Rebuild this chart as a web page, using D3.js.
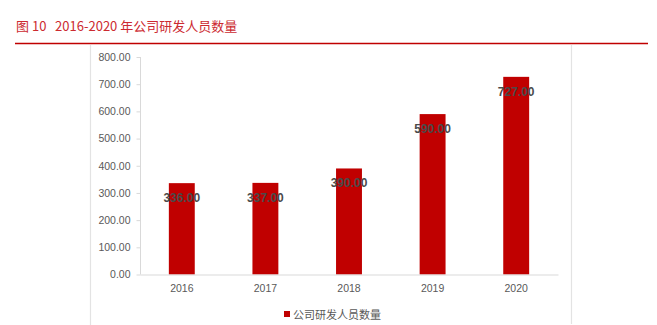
<!DOCTYPE html>
<html>
<head>
<meta charset="utf-8">
<script src="https://cdn.jsdelivr.net/npm/d3@7"></script>
<style>
  html, body { margin: 0; padding: 0; background: #fff; }
  svg { display: block; }
</style>
</head>
<body>
<svg id="chart" width="657" height="325"></svg>
<script>
const categories = ["2016", "2017", "2018", "2019", "2020"];
const values = [336, 337, 390, 590, 727];
const valueLabels = ["336.00", "337.00", "390.00", "590.00", "727.00"];
const yTicks = [0, 100, 200, 300, 400, 500, 600, 700, 800];
const seriesName = "公司研发人员数量";
const titleText = "图 10   2016-2020 年公司研发人员数量";

const svg = d3.select("#chart");
const red = "#c00000";
const textGray = "#595959";
const latin = "'Liberation Sans', Arial, sans-serif";
const cjk = "'Noto Sans CJK SC', sans-serif";

// Title
svg.append("text")
  .attr("x", 16).attr("y", 31)
  .attr("fill", "#cc2a30")
  .attr("font-family", cjk)
  .attr("font-size", 13)
  .attr("xml:space", "preserve")
  .style("white-space", "pre")
  .text(titleText);

// Red rule
svg.append("line")
  .attr("x1", 15).attr("x2", 648)
  .attr("y1", 43.5).attr("y2", 43.5)
  .attr("stroke", red).attr("stroke-width", 1.6);

// Frame borders
svg.append("line").attr("x1", 90.5).attr("x2", 90.5).attr("y1", 45).attr("y2", 325)
  .attr("stroke", "#e3e3e3").attr("stroke-width", 1.2);
svg.append("line").attr("x1", 571.5).attr("x2", 571.5).attr("y1", 45).attr("y2", 324)
  .attr("stroke", "#e3e3e3").attr("stroke-width", 1.2);

const x = d3.scaleBand().domain(categories).range([140, 558])
  .paddingInner(0.69).paddingOuter(0.345);
const y = d3.scaleLinear().domain([0, 800]).range([274.5, 57]);

// Y axis
const yAxis = svg.append("g").attr("transform", "translate(140.5,0)")
  .call(d3.axisLeft(y).tickValues(yTicks).tickFormat(d3.format(".2f")).tickSize(4).tickPadding(6));
yAxis.select(".domain").attr("stroke", "#d9d9d9").attr("d", `M0,${y(800)}V${y(0)}`);
yAxis.selectAll(".tick line").attr("stroke", "#d9d9d9").attr("x2", -4);
yAxis.selectAll(".tick text").attr("fill", textGray).attr("font-family", latin).attr("font-size", 10.5);

// Bars
svg.append("g").selectAll("rect").data(values).join("rect")
  .attr("x", (d, i) => x(categories[i]))
  .attr("width", x.bandwidth())
  .attr("y", d => y(d))
  .attr("height", d => y(0) - y(d))
  .attr("fill", red);

// X axis
const xAxis = svg.append("g").attr("transform", `translate(0,${y(0)})`)
  .call(d3.axisBottom(x).tickSize(0).tickPadding(10));
xAxis.select(".domain").attr("stroke", "#d9d9d9");
xAxis.selectAll(".tick text").attr("fill", textGray).attr("font-family", latin).attr("font-size", 10.5);

// Value labels
svg.append("g").selectAll("text").data(values).join("text")
  .attr("x", (d, i) => x(categories[i]) + x.bandwidth() / 2)
  .attr("y", d => y(d) + 19)
  .attr("text-anchor", "middle")
  .attr("fill", "#4a4a4a")
  .attr("font-family", latin)
  .attr("font-weight", "bold")
  .attr("font-size", 12)
  .text((d, i) => valueLabels[i]);

// Legend
const lg = svg.append("g");
lg.append("rect").attr("x", 284).attr("y", 311).attr("width", 6).attr("height", 6).attr("fill", red);
lg.append("text").attr("x", 293).attr("y", 318.5)
  .attr("fill", textGray).attr("font-family", cjk).attr("font-size", 11)
  .text(seriesName);
</script>
</body>
</html>
